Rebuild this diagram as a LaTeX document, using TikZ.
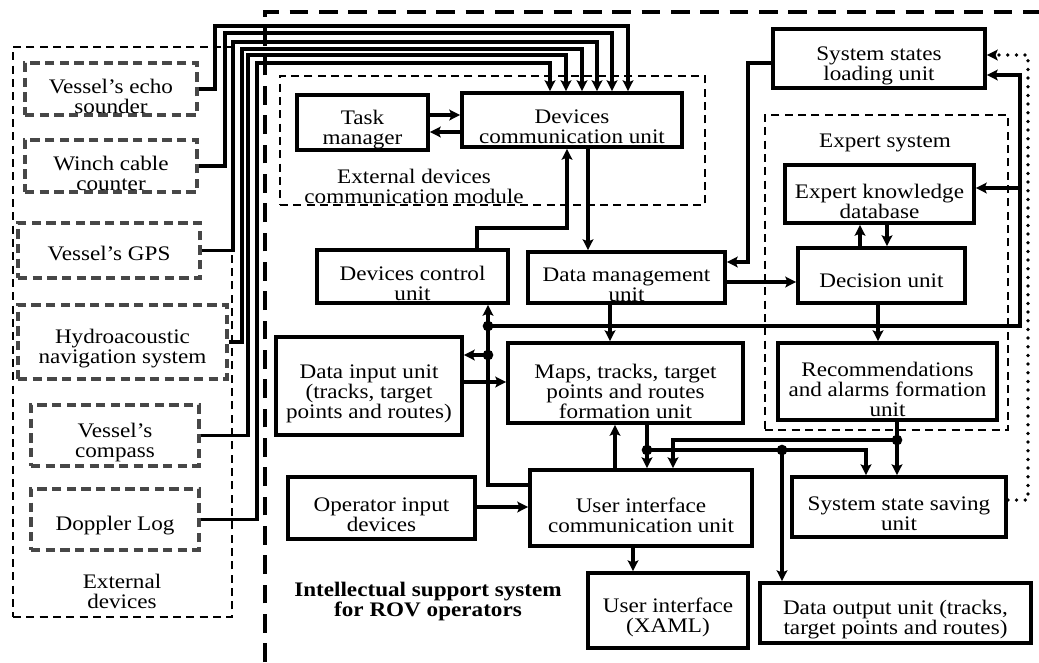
\documentclass[tikz,border=0pt]{standalone}
\usepackage{fontspec}
\setmainfont{Liberation Serif}[FakeStretch=1.12]
\usetikzlibrary{arrows.meta,fit}
\begin{document}
\begin{tikzpicture}[x=0.75pt,y=-0.75pt,
  font=\fontsize{15.5}{15}\selectfont,
  box/.style={draw, line width=2.9pt, inner sep=0pt},
  dev/.style={draw=black!72, line width=2.4pt, dash pattern=on 7pt off 4pt, inner sep=0pt},
  grp/.style={draw, line width=1.3pt, dash pattern=on 6pt off 4pt, inner sep=0pt},
  wire/.style={line width=2.7pt},
  arr/.style={wire, -{Stealth[length=8pt,width=8pt,inset=1.5pt]}},
  dotline/.style={line width=2.8pt, line cap=round, dash pattern=on 0pt off 6.5pt},
  border/.style={line width=2.6pt, dash pattern=on 14pt off 8pt},
  lbl/.style={align=center, inner sep=0pt},
  l1/.style={lbl, yshift=-4.2pt},
  l2/.style={lbl, yshift=-5.2pt},
  l3/.style={lbl, yshift=-6pt}]
\fill[white] (0,0) rectangle (1039,662);
\useasboundingbox (0,0) rectangle (1039,662);

% outer border of the system
\draw[border] (265,662) -- (265,12) -- (1039,12);

% external devices
\node[grp, fit={(13,47)(232,617)}] (ext) {};
\node[l2] (extlbl) at (122,584) {External\\devices};
\node[dev, fit={(25,63)(197,115)}] (echo) {};
\node[l2] (echol) at (echo.center) {Vessel's echo\\sounder};
\node[dev, fit={(25,140)(197,192)}] (winch) {};
\node[l2] (winchl) at (winch.center) {Winch cable\\counter};
\node[dev, fit={(18,223)(200,278)}] (gps) {};
\node[lbl, yshift=-2.2pt] (gpsl) at (gps.center) {Vessel's GPS};
\node[dev, fit={(18,305)(227,379)}] (hydro) {};
\node[l2] (hydrol) at (hydro.center) {Hydroacoustic\\navigation system};
\node[dev, fit={(31,405)(199,466)}] (compass) {};
\node[l2] (compassl) at (compass.center) {Vessel's\\compass};
\node[dev, fit={(31,489)(199,550)}] (doppler) {};
\node[l1] (dopplerl) at (doppler.center) {Doppler Log};

% groups
\node[grp, fit={(280,76)(705,205)}] (edcm) {};
\node[l2] (edcmlbl) at (414,179) {External devices\\communication module};
\node[grp, fit={(765,115)(1008,430)}] (es) {};
\node[l1] (eslbl) at (885,137) {Expert system};

% units
\node[box, fit={(297,95)(428,150)}] (tm) {};
\node[l2] (tml) at (tm.center) {Task\\manager};
\node[box, fit={(462,93)(682,147)}] (dcu) {};
\node[l2] (dcul) at (dcu.center) {Devices\\communication unit};
\node[box, fit={(773,29)(985,88)}] (sslu) {};
\node[l2] (sslul) at (sslu.center) {System states\\loading unit};
\node[box, fit={(785,165)(974,223)}] (ekd) {};
\node[l2] (ekdl) at (ekd.center) {Expert knowledge\\database};
\node[box, fit={(798,248)(965,303)}] (du) {};
\node[l1] (dul) at (du.center) {Decision unit};
\node[box, fit={(317,250)(508,303)}] (dctl) {};
\node[l2] (dctll) at (dctl.center) {Devices control\\unit};
\node[box, fit={(528,252)(725,303)}] (dmu) {};
\node[l2] (dmul) at (dmu.center) {Data management\\unit};
\node[box, fit={(276,337)(462,435)}] (diu) {};
\node[l3] (diul) at (diu.center) {Data input unit\\(tracks, target\\points and routes)};
\node[box, fit={(508,343)(743,423)}] (maps) {};
\node[l3] (mapsl) at (maps.center) {Maps, tracks, target\\points and routes\\formation unit};
\node[box, fit={(778,343)(997,420)}] (rec) {};
\node[l3] (recl) at (rec.center) {Recommendations\\and alarms formation\\unit};
\node[box, fit={(288,477)(475,539)}] (oid) {};
\node[l2] (oidl) at (oid.center) {Operator input\\devices};
\node[box, fit={(530,470)(752,546)}] (uicu) {};
\node[l2] (uicul) at (uicu.center) {User interface\\communication unit};
\node[box, fit={(792,477)(1006,537)}] (sssu) {};
\node[l2] (sssul) at (sssu.center) {System state saving\\unit};
\node[box, fit={(588,573)(748,648)}] (ui) {};
\node[l2] (uil) at (ui.center) {User interface\\(XAML)};
\node[box, fit={(760,583)(1031,643)}] (dou) {};
\node[l2] (doul) at (dou.center) {Data output unit (tracks,\\target points and routes)};
\node[l2, font=\fontsize{15.5}{15}\selectfont\bfseries] (isslbl) at (428,595) {Intellectual support system\\for ROV operators};

% wires from external devices
\draw[arr] (echo.east) -| (215,26) -| (dcu.north -| 628,0);
\draw[arr] (winch.east) -| (225,33) -| (dcu.north -| 612,0);
\draw[arr] (gps.east) -| (233,42) -| (dcu.north -| 597,0);
\draw[arr] (hydro.east) -| (242,49) -| (dcu.north -| 582,0);
\draw[arr] (compass.east) -| (248,55) -| (dcu.north -| 566,0);
\draw[arr] (doppler.east) -| (257,63) -| (dcu.north -| 550,0);

% internal connections
\draw[arr] (tm.east |- 0,115) -- (dcu.west |- 0,115);
\draw[arr] (dcu.west |- 0,132) -- (tm.east |- 0,132);
\draw[arr] (dcu.south -| 588,0) -- (dmu.north -| 588,0);
\draw[arr] (dctl.north -| 477,0) |- (567,228) -- (dcu.south -| 567,0);
\draw[arr] (sslu.west |- 0,63) -| (748,262) -- (dmu.east |- 0,262);
\draw[arr] (dmu.east |- 0,282) -- (du.west |- 0,282);
\draw[arr] (dmu.south -| 610,0) -- (maps.north -| 610,0);
\draw[arr] (du.south -| 878,0) -- (rec.north -| 878,0);
\draw[arr] (du.north -| 860,0) -- (ekd.south -| 860,0);
\draw[arr] (ekd.south -| 887,0) -- (du.north -| 887,0);

\coordinate (jA) at (488,326);
\coordinate (jB) at (488,355);
\coordinate (jC) at (1020,188);
\coordinate (jD) at (647,450);
\coordinate (jE) at (782,450);
\coordinate (jF) at (897,440);

\draw[arr] (uicu.west |- 0,485) -| (dctl.south -| 488,0);
\draw[arr] (jB) -- (diu.east |- jB);
\draw[arr] (jA) -- (1020,326) |- (sslu.east |- 0,75);
\draw[arr] (jC) -- (ekd.east |- jC);
\draw[arr] (diu.east |- 0,382) -- (maps.west |- 0,382);
\draw[arr] (oid.east |- 0,507) -- (uicu.west |- 0,507);
\draw[arr] (uicu.north -| 615,0) -- (maps.south -| 615,0);
\draw[arr] (maps.south -| jD) -- (uicu.north -| jD);
\draw[arr] (jD) -| (sssu.north -| 866,0);
\draw[arr] (jE) -- (dou.north -| jE);
\draw[arr] (rec.south -| jF) -- (sssu.north -| jF);
\draw[arr] (jF) -| (uicu.north -| 673,0);
\draw[arr] (uicu.south -| 633,0) -- (ui.north -| 633,0);
\draw[dotline, -{Stealth[length=8pt,width=8pt,inset=1.5pt]}] (sssu.east |- 0,500) -| (1028,55) -- (sslu.east |- 0,55);

\foreach \j in {jA,jB,jD,jE,jF} \fill (\j) circle[radius=4pt];
\end{tikzpicture}
\end{document}
